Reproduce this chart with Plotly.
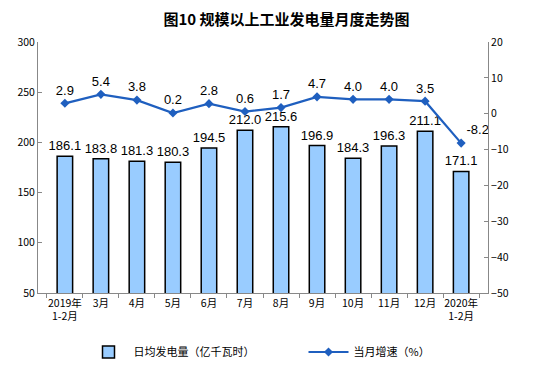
import plotly.graph_objects as go

categories = ["2019年<br>1-2月", "3月", "4月", "5月", "6月", "7月", "8月", "9月", "10月", "11月", "12月", "2020年<br>1-2月"]
daily_output = [186.1, 183.8, 181.3, 180.3, 194.5, 212.0, 215.6, 196.9, 184.3, 196.3, 211.1, 171.1]
growth = [2.9, 5.4, 3.8, 0.2, 2.8, 0.6, 1.7, 4.7, 4.0, 4.0, 3.5, -8.2]

fig = go.Figure()
fig.add_trace(go.Bar(
    x=categories, y=daily_output, name="日均发电量（亿千瓦时）",
    marker=dict(color="#99CCFF", line=dict(color="#000000", width=1.5)),
    width=0.43,
    text=[f"{v:.1f}" for v in daily_output], textposition="outside",
    constraintext="none",
    textfont=dict(family="Liberation Sans, Arial", size=13, color="#000000"),
    cliponaxis=False,
))
positions = ["top center"] * (len(growth) - 1) + ["top right"]
fig.add_trace(go.Scatter(
    x=categories, y=growth, name="当月增速（%）", yaxis="y2",
    mode="lines+markers+text",
    line=dict(color="#1F5FBF", width=2.2),
    marker=dict(symbol="diamond", size=7, color="#1F5FBF"),
    text=[f"{v:.1f}" for v in growth], textposition=positions,
    textfont=dict(family="Liberation Sans, Arial", size=13, color="#000000"),
    cliponaxis=False,
))

tickfont = dict(family="Noto Sans CJK SC, Liberation Serif", size=10.5, color="#000000")
fig.update_layout(
    width=557, height=384,
    margin=dict(l=30, r=77, t=34, b=99, autoexpand=False),
    paper_bgcolor="white", plot_bgcolor="white",
    title=dict(text="<b>图10 规模以上工业发电量月度走势图</b>", x=0.5, xanchor="center", y=0.969, yanchor="middle",
               font=dict(family="Noto Sans CJK SC", size=15, color="#000000")),
    xaxis=dict(type="category", showline=True, linecolor="#888888", ticks="outside",
               tickson="boundaries", ticklen=4, tickcolor="#888888", tickfont=tickfont,
               tickangle=0, showgrid=False),
    yaxis=dict(range=[50, 300], dtick=50, showline=True, linecolor="#888888", ticks="inside",
               ticklen=4, tickcolor="#888888", showgrid=False, tickfont=tickfont, zeroline=False),
    yaxis2=dict(range=[-50, 20], dtick=10, overlaying="y", side="right", showline=True,
                linecolor="#888888", ticks="inside", ticklen=4, tickcolor="#888888",
                showgrid=False, tickfont=tickfont, zeroline=False),
    legend=dict(orientation="h", x=0.59, xanchor="center", y=-0.235, yanchor="middle",
                font=dict(family="Noto Sans CJK SC", size=11, color="#000000"),
                itemwidth=40, entrywidth=165, entrywidthmode="pixels"),
    showlegend=True,
    bargap=0.5,
)
fig.write_html("out.html")
